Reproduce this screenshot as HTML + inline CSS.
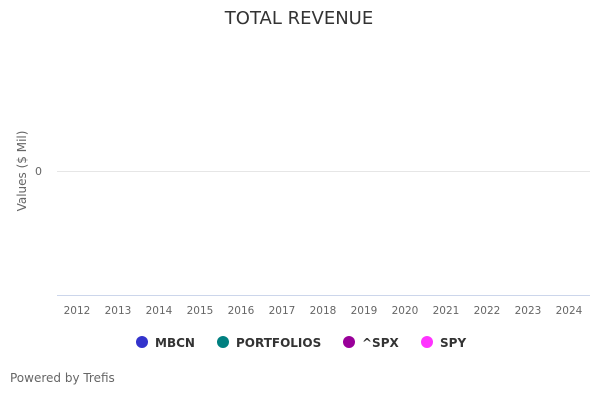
<!DOCTYPE html>
<html><head><meta charset="utf-8"><style>
html,body{margin:0;padding:0;background:#fff;width:600px;height:400px;overflow:hidden}
text{font-family:"DejaVu Sans","Liberation Sans",sans-serif}
</style></head><body>
<svg width="600" height="400" xmlns="http://www.w3.org/2000/svg">
<rect width="600" height="400" fill="#fff"/>
<text x="299" y="24" text-anchor="middle" font-size="18" fill="#333">TOTAL REVENUE</text>
<text transform="translate(26,171) rotate(-90)" text-anchor="middle" font-size="12" fill="#666">Values ($ Mil)</text>
<text x="42" y="175" text-anchor="end" font-size="11" fill="#666">0</text>
<line x1="57" y1="171.5" x2="590" y2="171.5" stroke="#e6e6e6" stroke-width="1"/>
<line x1="57" y1="295.5" x2="590" y2="295.5" stroke="#ccd6eb" stroke-width="1"/>
<g font-size="10.5" fill="#666" text-anchor="middle">
<text x="77" y="314">2012</text><text x="118" y="314">2013</text><text x="159" y="314">2014</text>
<text x="200" y="314">2015</text><text x="241" y="314">2016</text><text x="282" y="314">2017</text>
<text x="323" y="314">2018</text><text x="364" y="314">2019</text><text x="405" y="314">2020</text>
<text x="446" y="314">2021</text><text x="487" y="314">2022</text><text x="528" y="314">2023</text>
<text x="569" y="314">2024</text>
</g>
<g font-size="12" font-weight="bold" fill="#333">
<circle cx="142" cy="342" r="6" fill="#3333cc"/><text x="155" y="347">MBCN</text>
<circle cx="223" cy="342" r="6" fill="#008080"/><text x="236" y="347">PORTFOLIOS</text>
<circle cx="349" cy="342" r="6" fill="#990099"/><text x="362" y="347">^SPX</text>
<circle cx="427" cy="342" r="6" fill="#ff33ff"/><text x="440" y="347">SPY</text>
</g>
<text x="10" y="382" font-size="12" fill="#666">Powered by Trefis</text>
</svg>
</body></html>
